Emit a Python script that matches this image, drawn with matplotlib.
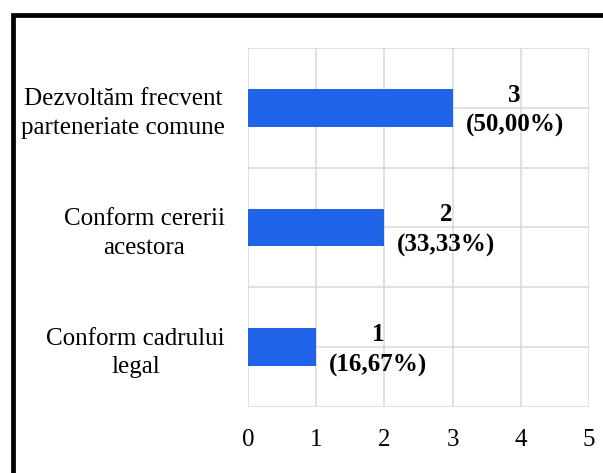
import matplotlib.pyplot as plt
from matplotlib.patches import Rectangle

# data, bottom to top
categories = ["Conform cadrului\nlegal", "Conform cererii\nacestora", "Dezvoltăm frecvent\nparteneriate comune"]
counts = [1, 2, 3]
percents = ["16,67%", "33,33%", "50,00%"]
xticks = [0, 1, 2, 3, 4, 5]

plt.rcParams['font.family'] = ['Liberation Serif', 'DejaVu Serif']

fig = plt.figure(figsize=(6.03, 4.73), dpi=100)
ax = fig.add_axes([248/603, 1-407/473, 341/603, 359/473])

ypos = list(range(len(categories)))
ax.barh(ypos, counts, height=0.317, color='#1f64e8', zorder=3)

for y, c, p in zip(ypos, counts, percents):
    ax.annotate(f"{c}\n({p})", xy=(c, y), xytext=(44.6, -2), textcoords='offset points',
                ha='center', va='center', ma='center', fontsize=18, fontweight='bold',
                linespacing=1.4, zorder=4)

ax.set_xlim(0, 5)
ax.set_ylim(-0.5, 2.5)
ax.set_xticks(xticks)
ax.set_xticklabels([str(t) for t in xticks], fontsize=18)
ax.set_yticks(ypos)
ax.set_yticklabels(categories, fontsize=18)
for lab in ax.get_yticklabels():
    lab.set_multialignment('center')
    lab.set_linespacing(1.4)
ax.set_yticks([-0.5, 0.5, 1.5, 2.5], minor=True)
ax.tick_params(axis='x', length=0, pad=16)
ax.tick_params(axis='y', which='both', length=0, pad=16.6)

ax.grid(axis='x', color='#d9d9d9', linewidth=1.1, zorder=0)
ax.grid(axis='y', which='both', color='#d9d9d9', linewidth=1.1, zorder=0)
ax.set_axisbelow(True)
for s in ax.spines.values():
    s.set_visible(False)

# outer frame (cut off at right and bottom)
fig.patches.append(Rectangle((12.5/603, -0.2), 1.5, 1.2 - 14.8/473, transform=fig.transFigure,
                             fill=False, edgecolor='black', linewidth=3.4))

fig.savefig('out.png', dpi=100)
